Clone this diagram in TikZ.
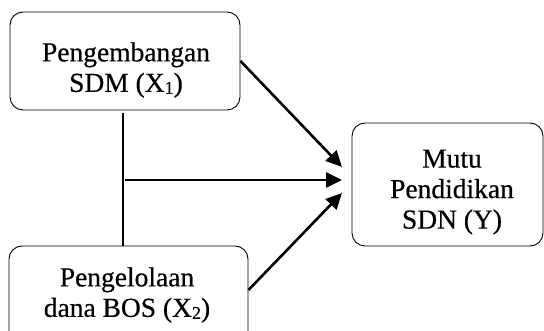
\documentclass[tikz,border=0pt]{standalone}
\usepackage{fontspec}
\setmainfont{Liberation Serif}[FakeBold=0.5]
\usetikzlibrary{arrows.meta}
\newcommand\subidx[1]{\raisebox{-2pt}{\fontsize{18}{18}\selectfont #1}}
\begin{document}
\begin{tikzpicture}[x=1pt,y=-1pt,
  box/.style={draw, rounded corners=13pt, line width=0.9pt, inner sep=0pt},
  lbl/.style={align=center, inner sep=0pt, font=\fontsize{27.5}{30.5}\selectfont},
  conn/.style={line width=2.6pt, -{Triangle[length=16pt,width=15pt]}},
  link/.style={line width=1.1pt}]
\useasboundingbox (0,0) rectangle (544,331);
\node[box, minimum width=230pt, minimum height=98pt] (x1) at (125,61) {};
\node[box, minimum width=239pt, minimum height=100pt] (x2) at (128.5,296) {};
\node[box, minimum width=191pt, minimum height=123pt] (y) at (447.5,184.5) {};
\node[lbl] (x1t) at (126,70) {Pengembangan\\SDM (X\subidx{1})};
\node[lbl] (x2t) at (127,295) {Pengelolaan\\dana BOS (X\subidx{2})};
\node[lbl] (yt) at (452,192) {Mutu\\Pendidikan\\SDN (Y)};
\coordinate (t1) at (342,167);
\coordinate (t2) at (342,180);
\coordinate (t3) at (342,193);
\coordinate (v1) at (123,113);
\coordinate (h) at (125,180);
\draw[conn] (x1.east) -- (t1);
\draw[conn] (h) -- (t2);
\draw[conn] ([yshift=6pt]x2.east) -- (t3);
\draw[link] (v1) -- (v1 |- x2.north);
\end{tikzpicture}
\end{document}
